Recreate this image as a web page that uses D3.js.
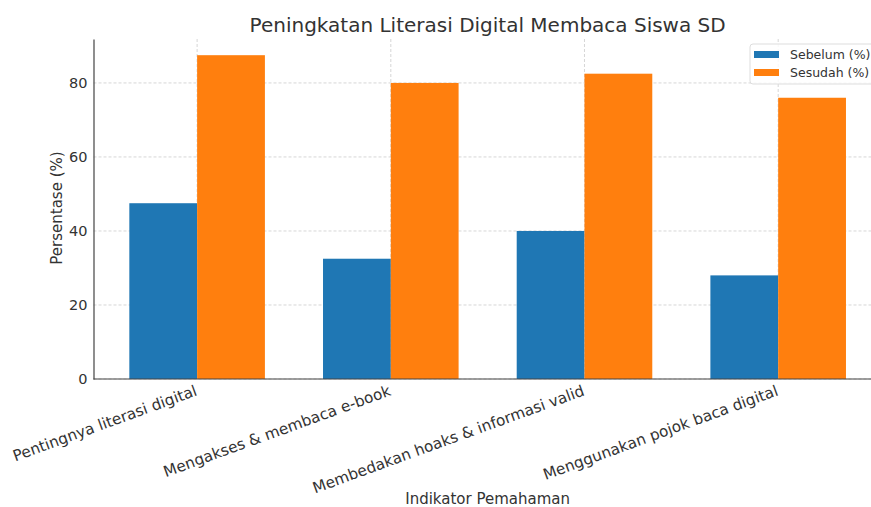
<!DOCTYPE html>
<html><head><meta charset="utf-8">
<script src="https://cdn.jsdelivr.net/npm/d3@7"></script>
<style>body{margin:0;background:#fff;overflow:hidden}svg{display:block;font-family:"DejaVu Sans",sans-serif}</style>
</head><body><svg id="c" width="871" height="507"></svg>
<script>
const categories = ["Pentingnya literasi digital","Mengakses & membaca e-book","Membedakan hoaks & informasi valid","Menggunakan pojok baca digital"];
const sebelum = [47.5, 32.5, 40, 28];
const sesudah = [87.5, 80, 82.5, 76];
const seriesNames = ["Sebelum (%)","Sesudah (%)"];
const colors = ["#1f77b4","#ff7f0e"];
const yTicks = [0,20,40,60,80];

(function(){
const svg = d3.select("#c");
const pL = 93.5, pR = 881.8, pT = 39, pB = 379;
const barW = 0.35;
const x = d3.scaleLinear().domain([-0.535, 3.535]).range([pL, pR]);
const yMax = d3.max(sesudah.concat(sebelum)) * 1.05;
const y = d3.scaleLinear().domain([0, yMax]).range([pB, pT]);
const textCol = "#333";

// grid
const g = svg.append("g");
g.selectAll(".hg").data(yTicks).join("line")
  .attr("x1", pL).attr("x2", pR).attr("y1", d=>y(d)).attr("y2", d=>y(d))
  .attr("stroke","#ccc").attr("stroke-width",0.8).attr("stroke-dasharray","3,2");
g.selectAll(".vg").data(categories).join("line")
  .attr("x1",(d,i)=>x(i)).attr("x2",(d,i)=>x(i)).attr("y1",pT).attr("y2",pB)
  .attr("stroke","#ccc").attr("stroke-width",0.8).attr("stroke-dasharray","3,2");

// bars
[sebelum, sesudah].forEach((vals, s) => {
  svg.append("g").selectAll("rect").data(vals).join("rect")
    .attr("x",(d,i)=>x(i + (s===0 ? -barW : 0)))
    .attr("width", x(barW) - x(0))
    .attr("y", d=>y(d)).attr("height", d=>y(0)-y(d))
    .attr("fill", colors[s]);
});

// axes
const yAxis = d3.axisLeft(y).tickValues(yTicks).tickSize(0).tickPadding(6);
const ya = svg.append("g").attr("transform",`translate(${pL},0)`).call(yAxis);
ya.select(".domain").attr("stroke","#444").attr("stroke-width",1.2);
ya.selectAll("text").attr("font-size",14.5).attr("fill",textCol).attr("font-family","DejaVu Sans");

const xAxis = d3.axisBottom(x).tickValues(d3.range(categories.length)).tickFormat("").tickSize(0);
const xa = svg.append("g").attr("transform",`translate(0,${pB})`).call(xAxis);
xa.select(".domain").attr("stroke","#444").attr("stroke-width",1.2).attr("d",`M${pL},0H${pR}`);

svg.append("g").selectAll("text").data(categories).join("text")
  .attr("transform",(d,i)=>`translate(${x(i)-3},${pB+5}) rotate(-20)`)
  .attr("text-anchor","end").attr("dy","0.76em")
  .attr("font-size",15.3).attr("fill",textCol).text(d=>d);

// title and labels
svg.append("text").attr("x",(pL+pR)/2).attr("y",32).attr("text-anchor","middle")
  .attr("font-size",20).attr("fill",textCol).text("Peningkatan Literasi Digital Membaca Siswa SD");
svg.append("text").attr("x",(pL+pR)/2).attr("y",504).attr("text-anchor","middle")
  .attr("font-size",15).attr("fill",textCol).text("Indikator Pemahaman");
svg.append("text").attr("transform",`translate(62,208) rotate(-90)`).attr("text-anchor","middle")
  .attr("font-size",15).attr("fill",textCol).text("Persentase (%)");

// legend
const lg = svg.append("g").attr("transform","translate(750,44)");
lg.append("rect").attr("x",0).attr("y",0).attr("width",140).attr("height",40).attr("rx",3)
  .attr("fill","#fff").attr("fill-opacity",0.8).attr("stroke","#ddd");
seriesNames.forEach((n,i)=>{
  lg.append("rect").attr("x",4).attr("y",7+i*18).attr("width",25).attr("height",7).attr("fill",colors[i]);
  lg.append("text").attr("x",40).attr("y",15+i*18).attr("font-size",12.5).attr("fill",textCol).text(n);
});
})();
</script></body></html>
